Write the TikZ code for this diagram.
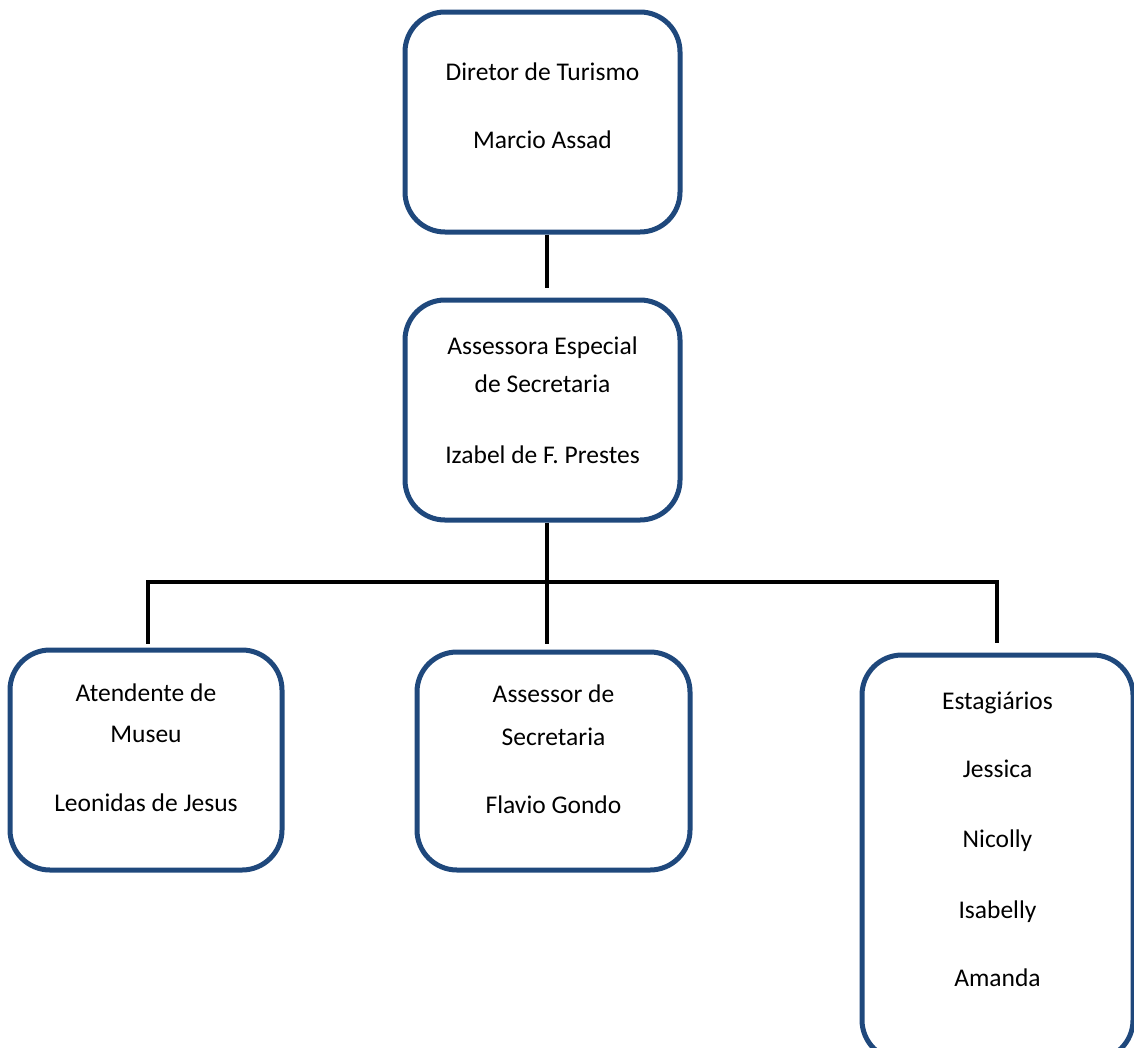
\documentclass[tikz,border=0pt]{standalone}
\usepackage{fontspec}
\setmainfont{Carlito}
\usetikzlibrary{calc}
\definecolor{boxblue}{RGB}{31,72,124}

\begin{document}
\begin{tikzpicture}[x=1pt,y=-1pt,line width=4.5pt,
	orgbox/.style={draw=boxblue,line width=5pt,rounded corners=40pt,inner sep=0pt},
	lbl/.style={anchor=base,inner sep=0pt,font=\fontsize{25.5}{30}\selectfont}]
\useasboundingbox (0,0) rectangle (1134,1047);

\node[orgbox,minimum width=275pt,minimum height=220pt] (dir) at (542.5,122) {};
\node[orgbox,minimum width=275pt,minimum height=220pt] (ass) at (542.5,410) {};
\node[orgbox,minimum width=272pt,minimum height=220pt] (mus) at (146,760) {};
\node[orgbox,minimum width=273pt,minimum height=218pt] (sec) at (553.5,761) {};
\node[orgbox,minimum width=271pt,minimum height=405pt] (est) at (997.5,857.5) {};

\node[lbl] (dir1) at ($(dir.north)+(0,71)$) {Diretor de Turismo};
\node[lbl] (dir2) at ($(dir.north)+(0,139)$) {Marcio Assad};

\node[lbl] (ass1) at ($(ass.north)+(0,57)$) {Assessora Especial};
\node[lbl] (ass2) at ($(ass.north)+(0,95)$) {de Secretaria};
\node[lbl] (ass3) at ($(ass.north)+(0,166)$) {Izabel de F. Prestes};

\node[lbl] (mus1) at ($(mus.north)+(0,54)$) {Atendente de};
\node[lbl] (mus2) at ($(mus.north)+(0,95)$) {Museu};
\node[lbl] (mus3) at ($(mus.north)+(0,164)$) {Leonidas de Jesus};

\node[lbl] (sec1) at ($(sec.north)+(0,53)$) {Assessor de};
\node[lbl] (sec2) at ($(sec.north)+(0,96)$) {Secretaria};
\node[lbl] (sec3) at ($(sec.north)+(0,164)$) {Flavio Gondo};

\node[lbl] (est1) at ($(est.north)+(0,57)$) {Estagiários};
\node[lbl] (est2) at ($(est.north)+(0,125)$) {Jessica};
\node[lbl] (est3) at ($(est.north)+(0,195)$) {Nicolly};
\node[lbl] (est4) at ($(est.north)+(0,266)$) {Isabelly};
\node[lbl] (est5) at ($(est.north)+(0,334)$) {Amanda};

% connectors
\coordinate (bar) at (547,582);
\draw ($(dir.south)+(4.5,0)$) -- ($(ass.north)+(4.5,-10)$);
\draw ($(ass.south)+(4.5,0)$) -- ($(ass.south |- sec.north)+(4.5,-6)$);
\draw ($(mus.north)+(2,-4)$) |- (bar) -| ($(est.north)+(-0.5,-10)$);

\end{tikzpicture}
\end{document}
